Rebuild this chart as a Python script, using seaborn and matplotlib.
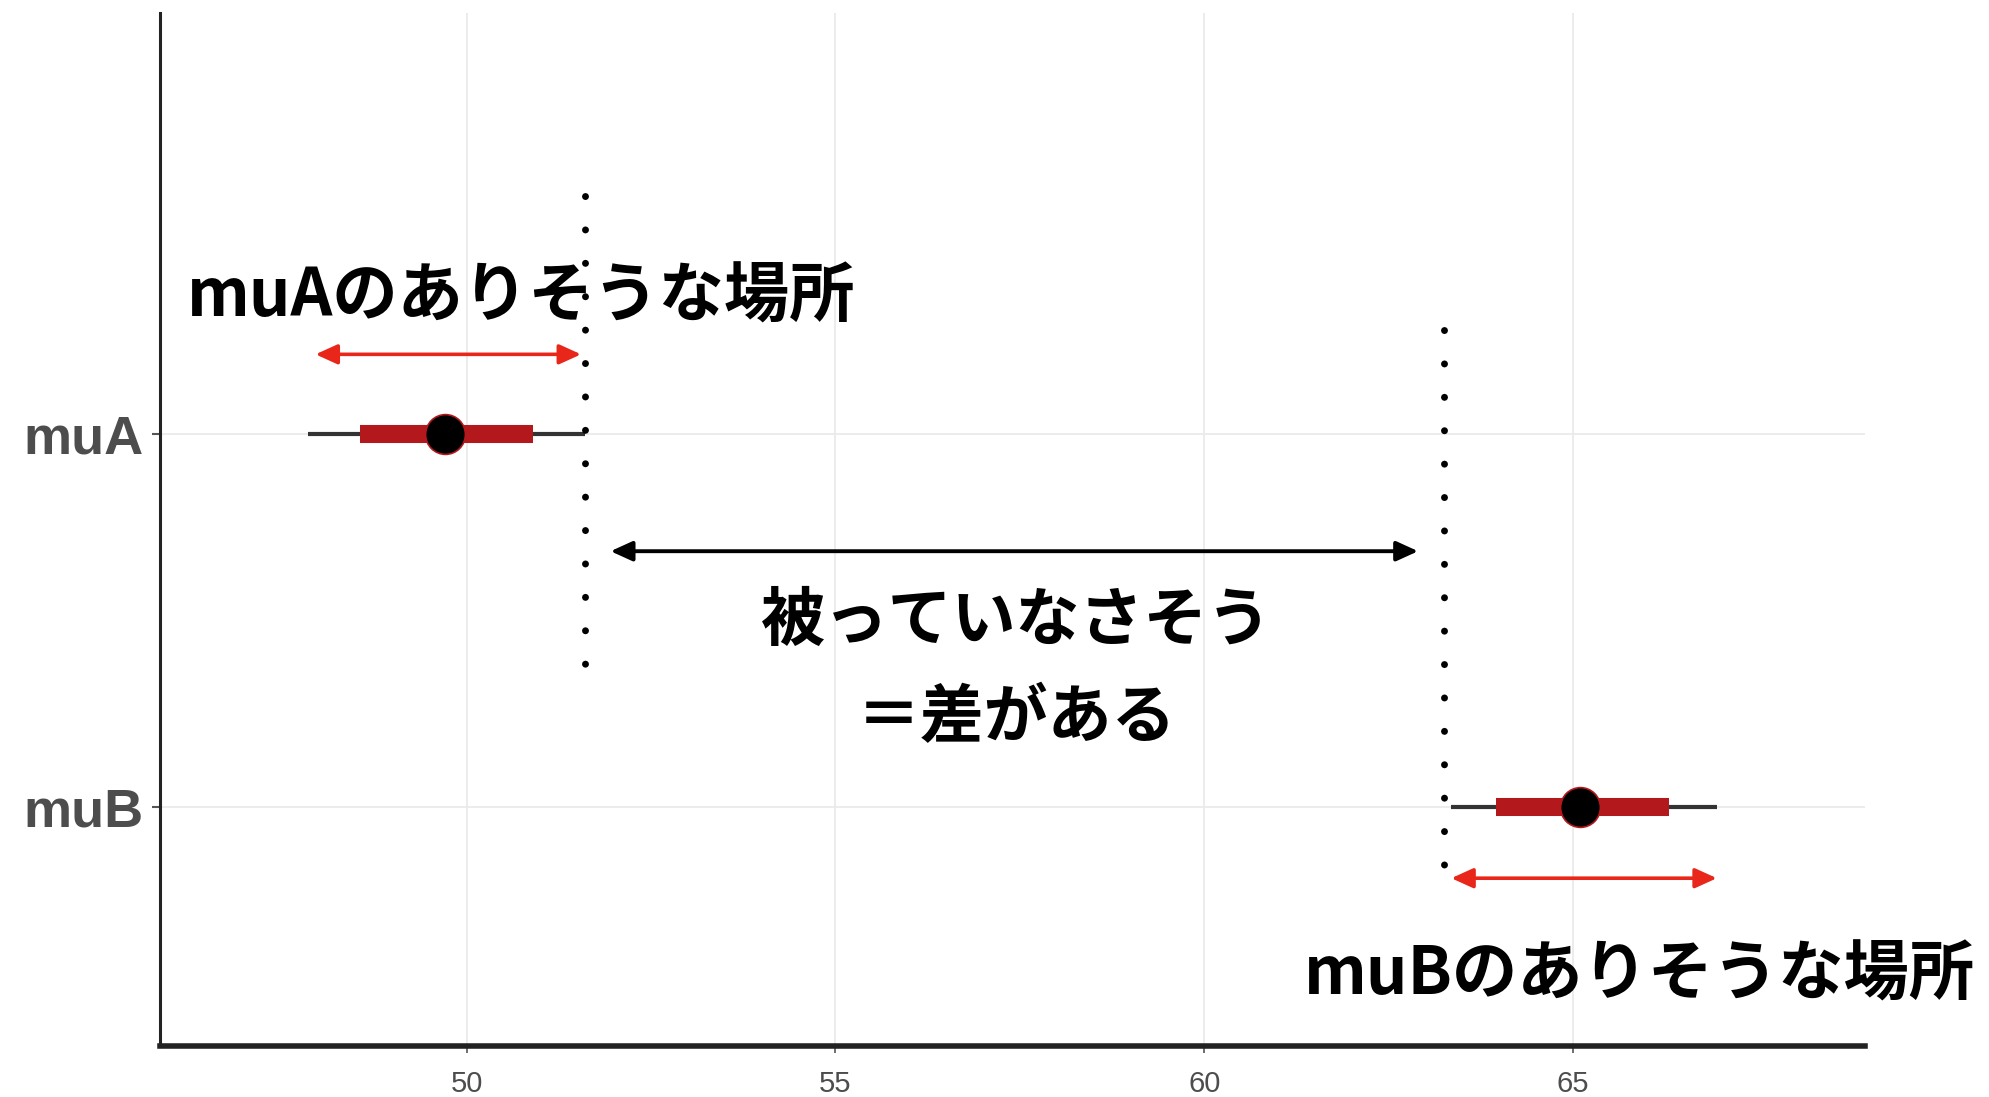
import matplotlib
matplotlib.use("Agg")
import matplotlib.pyplot as plt
import seaborn as sns
import pandas as pd

# posterior summaries
params = ["muA", "muB"]
point_est = [49.7, 65.1]
inner_lo = [48.55, 63.95]
inner_hi = [50.9, 66.3]
outer_lo = [47.85, 63.35]
outer_hi = [51.6, 66.95]

x_ticks = [50, 55, 60, 65]

# annotation layout (data coords: x = value, y = row index)
dotted_x = [51.6, 63.25]
dotted_y = [(-0.64, 0.66), (-0.28, 1.16)]
red_arrows = [(47.95, 51.55, -0.215), (63.35, 66.95, 1.19)]
black_arrow = (51.95, 62.9, 0.313)
labels_text = ["muAのありそうな場所", "muBのありそうな場所"]
labels_pos = [(46.2, -0.37), (61.35, 1.45)]
middle_text = ["被っていなさそう", "＝差がある"]
middle_pos = [(57.45, 0.50), (57.45, 0.76)]

df = pd.DataFrame({"param": params, "est": point_est,
                   "ilo": inner_lo, "ihi": inner_hi,
                   "olo": outer_lo, "ohi": outer_hi})

sns.set_theme(style="white")
plt.rcParams["font.family"] = ["Liberation Sans", "DejaVu Sans"]

fig = plt.figure(figsize=(19.89, 10.97), dpi=100)
ax = fig.add_axes([0.0804, 0.0465, 0.8573, 0.9415])

ax.hlines(df["param"], df["olo"], df["ohi"], color="#333333", lw=3, zorder=3)
ax.hlines(df["param"], df["ilo"], df["ihi"], color="#B2181C", lw=13, zorder=4)
sns.scatterplot(data=df, x="est", y="param", ax=ax, s=820, color="black",
                edgecolor="#B2181C", linewidth=1.2, zorder=5)

ax.set_xlim(45.84, 68.96)
ax.set_ylim(1.64, -1.13)
ax.set_xticks(x_ticks)
ax.set_xlabel("")
ax.set_ylabel("")

ax.grid(True, color="#EAEAEA", lw=1.3)
ax.set_axisbelow(True)
for s in ["top", "right"]:
    ax.spines[s].set_visible(False)
ax.spines["left"].set_color("#222222")
ax.spines["left"].set_linewidth(2.2)
ax.spines["bottom"].set_color("#222222")
ax.spines["bottom"].set_linewidth(4)

ax.tick_params(axis="y", length=6, width=1.5, color="#555555", labelsize=39,
               labelcolor="#4D4D4D", pad=6, left=True)
ax.tick_params(axis="x", length=5, width=1.2, color="#555555", labelsize=21,
               labelcolor="#4D4D4D", pad=12, bottom=True)
for t in ax.get_yticklabels():
    t.set_fontweight("bold")

# dotted boundaries
for xv, (y0, y1) in zip(dotted_x, dotted_y):
    ax.plot([xv, xv], [y0, y1], color="black", lw=5,
            linestyle=(0, (0.01, 4.8)), dash_capstyle="round", zorder=6)

# arrows
for x0, x1, yv in red_arrows:
    ax.annotate("", xy=(x1, yv), xytext=(x0, yv),
                arrowprops=dict(arrowstyle="<|-|>,head_length=1.1,head_width=0.5",
                                color="#E8261A", lw=2.6, shrinkA=0, shrinkB=0))
x0, x1, yv = black_arrow
ax.annotate("", xy=(x1, yv), xytext=(x0, yv),
            arrowprops=dict(arrowstyle="<|-|>,head_length=1.1,head_width=0.5",
                            color="black", lw=2.8, shrinkA=0, shrinkB=0))

jp = ["Noto Sans CJK JP", "DejaVu Sans"]
for txt, (xv, yv) in zip(labels_text, labels_pos):
    ax.text(xv, yv, txt, ha="left", va="center", fontsize=47,
            fontweight="bold", family=jp, color="black", zorder=7)
for txt, (xv, yv) in zip(middle_text, middle_pos):
    ax.text(xv, yv, txt, ha="center", va="center", fontsize=46,
            fontweight="bold", family=jp, color="black", zorder=7)

fig.savefig("out.png", dpi=100)
